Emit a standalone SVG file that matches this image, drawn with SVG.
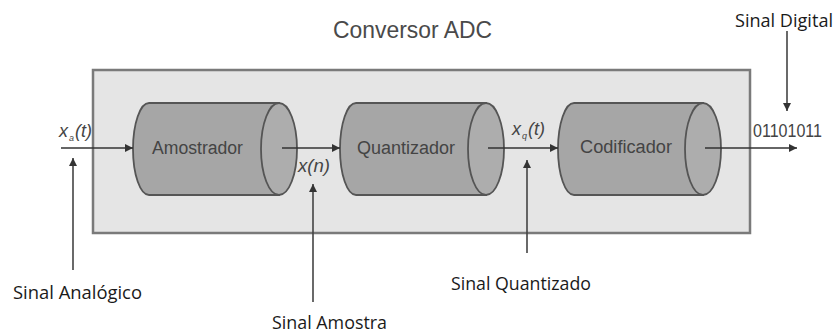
<svg xmlns="http://www.w3.org/2000/svg" width="837" height="333" viewBox="0 0 837 333">
<defs>
<marker id="ah" viewBox="0 0 10 10" refX="10" refY="5" markerWidth="9" markerHeight="8" markerUnits="userSpaceOnUse" orient="auto">
<path d="M0,0 L10,5 L0,10 z" fill="#333"/>
</marker>
<style>
.box{fill:#e5e5e5;stroke:#7a7a7a;stroke-width:2.5}
.cyl{fill:#a6a6a6;stroke:#555;stroke-width:1.8}
.cap{fill:#adadad;stroke:#555;stroke-width:1.8}
.lbl{font-family:"Liberation Sans",Arial,sans-serif;font-size:18px;fill:#444}
.sig{font-family:"Liberation Sans",Arial,sans-serif;font-style:italic;font-size:18px;fill:#444}
.sub{font-family:"Liberation Sans",Arial,sans-serif;font-style:italic;font-size:9px;fill:#444}
.note{font-family:"Open Sans",sans-serif;font-size:18.5px;fill:#1a1a1a}
.ttl{font-family:"Liberation Sans",Arial,sans-serif;font-size:23px;fill:#4a4a4a}
.arr{stroke:#333;stroke-width:1.6;fill:none}
.varr{stroke:#444;stroke-width:1.6;fill:none}
</style>
</defs>
<rect width="837" height="333" fill="#fff"/>
<text class="ttl" x="333" y="38" textLength="159" lengthAdjust="spacingAndGlyphs">Conversor ADC</text>
<g id="conversor">
<rect class="box" x="93" y="70" width="657" height="163"/>
</g>
<g id="amostrador">
<path class="cyl" d="M149,103 L279,103 L279,195 L149,195 A16,46 0 0 1 149,103 z"/>
<ellipse class="cap" cx="279" cy="149" rx="18" ry="46"/>
<text class="lbl" x="152" y="154" textLength="91" lengthAdjust="spacingAndGlyphs">Amostrador</text>
</g>
<g id="quantizador">
<path class="cyl" d="M356,103 L486,103 L486,195 L356,195 A16,46 0 0 1 356,103 z"/>
<ellipse class="cap" cx="486" cy="149" rx="18" ry="46"/>
<text class="lbl" x="357" y="154" textLength="98" lengthAdjust="spacingAndGlyphs">Quantizador</text>
</g>
<g id="codificador">
<path class="cyl" d="M574,103 L703,103 L703,195 L574,195 A16,46 0 0 1 574,103 z"/>
<ellipse class="cap" cx="703" cy="149" rx="18" ry="46"/>
<text class="lbl" x="580" y="153" textLength="92" lengthAdjust="spacingAndGlyphs">Codificador</text>
</g>
<g id="connectors">
<line class="arr" x1="61" y1="148" x2="133" y2="148" marker-end="url(#ah)"/>
<line class="arr" x1="282" y1="148" x2="340" y2="148" marker-end="url(#ah)"/>
<line class="arr" x1="488" y1="148" x2="558" y2="148" marker-end="url(#ah)"/>
<line class="arr" x1="705" y1="148" x2="797" y2="148" marker-end="url(#ah)"/>
<line class="varr" x1="73" y1="270" x2="73" y2="158" marker-end="url(#ah)"/>
<line class="varr" x1="313" y1="302" x2="313" y2="184" marker-end="url(#ah)"/>
<line class="varr" x1="527" y1="253" x2="527" y2="160" marker-end="url(#ah)"/>
<line class="varr" x1="787" y1="31" x2="787" y2="111" marker-end="url(#ah)"/>
</g>
<g id="signal-labels">
<text class="sig" x="59" y="137">x</text><text class="sub" x="69" y="141">a</text><text class="sig" x="75" y="137">(t)</text>
<text class="sig" x="298" y="172" textLength="32" lengthAdjust="spacingAndGlyphs">x(n)</text>
<text class="sig" x="512" y="135">x</text><text class="sub" x="522" y="139">q</text><text class="sig" x="528" y="135">(t)</text>
<text class="lbl" x="753" y="137" font-size="17" textLength="69" lengthAdjust="spacingAndGlyphs">01101011</text>
</g>
<g id="notes">
<text class="note" x="13" y="299" textLength="129" lengthAdjust="spacingAndGlyphs">Sinal Analógico</text>
<text class="note" x="272" y="329" textLength="115" lengthAdjust="spacingAndGlyphs">Sinal Amostra</text>
<text class="note" x="451" y="290" textLength="140" lengthAdjust="spacingAndGlyphs">Sinal Quantizado</text>
<text class="note" x="735" y="27" textLength="98" lengthAdjust="spacingAndGlyphs">Sinal Digital</text>
</g>
</svg>
